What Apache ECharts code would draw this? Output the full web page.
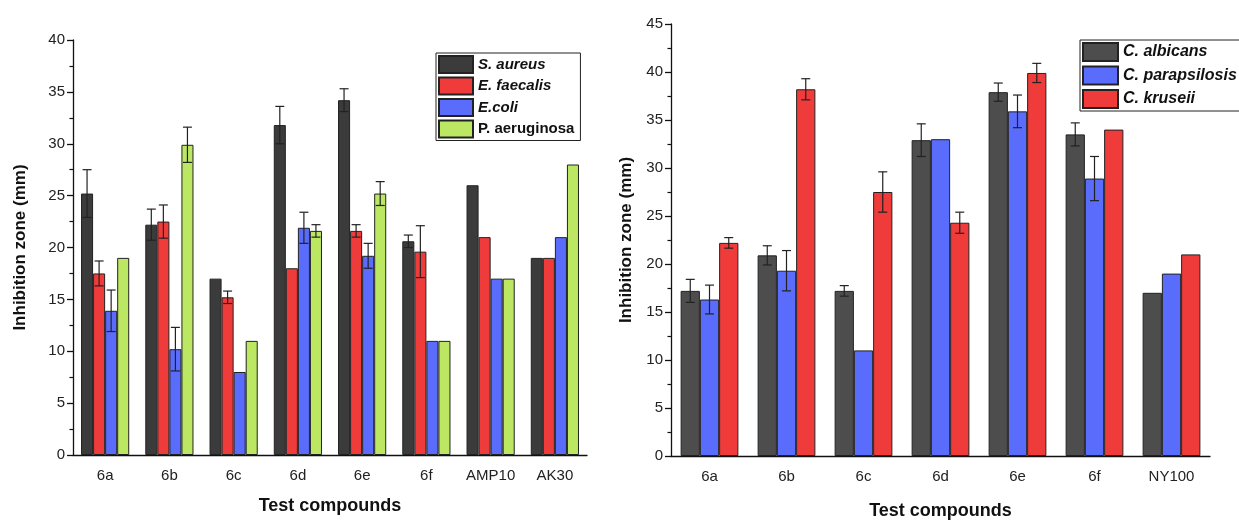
<!DOCTYPE html>
<html>
<head>
<meta charset="utf-8">
<script src="https://cdn.jsdelivr.net/npm/echarts@6/dist/echarts.min.js"></script>
<style>
  html, body { margin: 0; padding: 0; background: #fff; }
  #chart { width: 1239px; height: 525px; }
</style>
</head>
<body>
<div id="chart"></div>
<script>
// bacteria panel
const leftCategories = ['6a', '6b', '6c', '6d', '6e', '6f', 'AMP10', 'AK30'];
const sAureus = [25.2, 22.2, 17, 31.8, 34.2, 20.6, 26, 19];
const sAureusErr = [2.3, 1.5, 0, 1.8, 1.1, 0.6, 0, 0];
const eFaecalis = [17.5, 22.5, 15.2, 18, 21.6, 19.6, 21, 19];
const eFaecalisErr = [1.2, 1.6, 0.6, 0, 0.6, 2.5, 0, 0];
const eColi = [13.9, 10.2, 8, 21.9, 19.2, 11, 17, 21];
const eColiErr = [2.0, 2.1, 0, 1.5, 1.2, 0, 0, 0];
const pAeruginosa = [19, 29.9, 11, 21.6, 25.2, 11, 17, 28];
const pAeruginosaErr = [0, 1.7, 0, 0.6, 1.15, 0, 0, 0];

// fungi panel
const rightCategories = ['6a', '6b', '6c', '6d', '6e', '6f', 'NY100'];
const cAlbicans = [17.2, 20.9, 17.2, 32.9, 37.9, 33.5, 17];
const cAlbicansErr = [1.2, 1.0, 0.55, 1.7, 0.95, 1.2, 0];
const cParapsilosis = [16.3, 19.3, 11, 33, 35.9, 28.9, 19];
const cParapsilosisErr = [1.5, 2.1, 0, 0, 1.7, 2.3, 0];
const cKruseii = [22.2, 38.2, 27.5, 24.3, 39.9, 34, 21];
const cKruseiiErr = [0.55, 1.1, 2.1, 1.1, 1.0, 0, 0];

const FONT = 'Arial, "Liberation Sans", sans-serif';
const DARK = '#3b3b3b', DARK2 = '#4d4d4d', RED = '#f03b3b', BLUE = '#5a6cfb', GREEN = '#bce763';

function errBars(n, k) {
  return function (params, api) {
    const e = api.value(2);
    if (!e) return;
    const idx = api.value(0), v = api.value(1);
    const bw = api.size([1, 0])[0] * 0.75 / n;
    const x = api.coord([idx, v])[0] + (k - (n - 1) / 2) * bw;
    const y1 = api.coord([idx, v + e])[1];
    const y2 = api.coord([idx, v - e])[1];
    const style = { stroke: '#222', lineWidth: 1.2 };
    const c = 4.5;
    return {
      type: 'group',
      children: [
        { type: 'line', shape: { x1: x, y1: y1, x2: x, y2: y2 }, style },
        { type: 'line', shape: { x1: x - c, y1: y1, x2: x + c, y2: y1 }, style },
        { type: 'line', shape: { x1: x - c, y1: y2, x2: x + c, y2: y2 }, style }
      ]
    };
  };
}

function bar(name, data, color, gi) {
  return {
    name, type: 'bar', data, xAxisIndex: gi * 2, yAxisIndex: gi,
    barGap: '0%', barCategoryGap: '25%',
    itemStyle: { color, borderColor: '#222', borderWidth: 1 }
  };
}

function err(vals, errs, n, k, gi) {
  return {
    name: 'err' + gi + k, type: 'custom', xAxisIndex: gi * 2, yAxisIndex: gi, z: 5,
    renderItem: errBars(n, k),
    encode: { x: 0, y: 1 },
    data: vals.map((v, i) => [i, v, errs[i]])
  };
}

function xAxes(cats, gi, nameGap) {
  const common = {
    type: 'category', data: cats, gridIndex: gi, position: 'bottom',
    axisLine: { lineStyle: { color: '#111', width: 1.3 } }
  };
  return [
    Object.assign({}, common, {
      axisTick: { alignWithLabel: true, length: 6, lineStyle: { color: '#111', width: 1.3 } },
      axisLabel: { fontSize: 15, color: '#222', fontFamily: FONT, margin: 13 },
      name: 'Test compounds', nameLocation: 'middle', nameGap,
      nameTextStyle: { fontSize: 18, fontWeight: 'bold', color: '#111', fontFamily: FONT }
    }),
    Object.assign({}, common, {
      axisLine: { show: false },
      axisTick: { length: 3.5, lineStyle: { color: '#111', width: 1.2 } },
      axisLabel: { show: false }
    })
  ];
}

function yAxis(gi, max, nameGap) {
  return {
    type: 'value', gridIndex: gi, min: 0, max, interval: 5,
    axisLine: { show: true, lineStyle: { color: '#111', width: 1.3 } },
    axisTick: { show: true, length: 6, lineStyle: { color: '#111', width: 1.3 } },
    minorTick: { show: true, splitNumber: 2, length: 3.5, lineStyle: { color: '#111', width: 1.2 } },
    splitLine: { show: false },
    axisLabel: { fontSize: 15, color: '#222', fontFamily: FONT, margin: 8 },
    name: 'Inhibition zone (mm)', nameLocation: 'middle', nameGap,
    nameTextStyle: { fontSize: 17, fontWeight: 'bold', color: '#111', fontFamily: FONT }
  };
}

function legend(names, plain, left, top, w, h, gap, fs) {
  return {
    data: names, orient: 'vertical', left, top, itemWidth: w, itemHeight: h, itemGap: gap,
    selectedMode: false, icon: 'rect', backgroundColor: '#fff',
    borderColor: '#222', borderWidth: 1, borderRadius: 0, padding: [2, 6, 2, 2],
    formatter: n => (plain.includes(n) ? '{p|' + n + '}' : '{i|' + n + '}'),
    textStyle: {
      rich: {
        i: { fontSize: fs, fontWeight: 'bold', fontStyle: 'italic', color: '#111', fontFamily: FONT },
        p: { fontSize: fs, fontWeight: 'bold', color: '#111', fontFamily: FONT }
      }
    }
  };
}

const chart = echarts.init(document.getElementById('chart'));
chart.setOption({
  animation: false,
  grid: [
    { left: 73, top: 40, width: 514, height: 415 },
    { left: 671, top: 24, width: 539, height: 435 }
  ],
  legend: [
    legend(['S. aureus', 'E. faecalis', 'E.coli', 'P. aeruginosa'], ['P. aeruginosa'], 436, 53, 34, 17, 2.5, 15),
    legend(['C. albicans', 'C. parapsilosis', 'C. kruseii'], [], 1080, 40, 35, 18, 3.5, 16)
  ],
  xAxis: xAxes(leftCategories, 0, 42).concat(xAxes(rightCategories, 1, 46)),
  yAxis: [yAxis(0, 40, 44), yAxis(1, 45, 36)],
  series: [
    bar('S. aureus', sAureus, DARK, 0),
    bar('E. faecalis', eFaecalis, RED, 0),
    bar('E.coli', eColi, BLUE, 0),
    bar('P. aeruginosa', pAeruginosa, GREEN, 0),
    err(sAureus, sAureusErr, 4, 0, 0),
    err(eFaecalis, eFaecalisErr, 4, 1, 0),
    err(eColi, eColiErr, 4, 2, 0),
    err(pAeruginosa, pAeruginosaErr, 4, 3, 0),
    bar('C. albicans', cAlbicans, DARK2, 1),
    bar('C. parapsilosis', cParapsilosis, BLUE, 1),
    bar('C. kruseii', cKruseii, RED, 1),
    err(cAlbicans, cAlbicansErr, 3, 0, 1),
    err(cParapsilosis, cParapsilosisErr, 3, 1, 1),
    err(cKruseii, cKruseiiErr, 3, 2, 1)
  ]
});
</script>
</body>
</html>
